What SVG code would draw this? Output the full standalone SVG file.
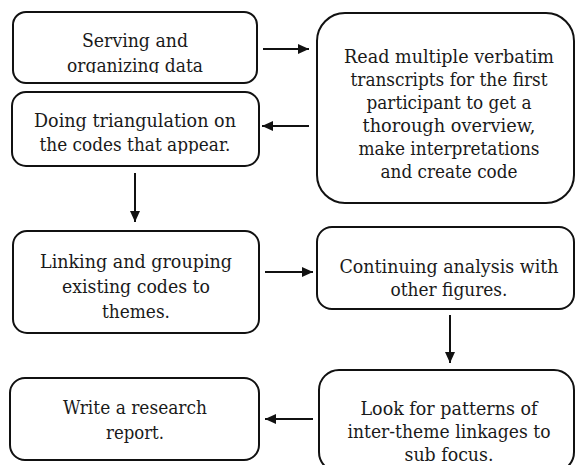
<svg xmlns="http://www.w3.org/2000/svg" width="576" height="465" viewBox="0 0 576 465">
  <style>
    .box { fill: #ffffff; stroke: #111111; stroke-width: 2; }
    .label { font-family: "DejaVu Serif", serif; font-size: 18.5px; fill: #1a1a1a; text-anchor: middle; }
    .conn { stroke: #111111; stroke-width: 2; fill: none; marker-end: url(#arrow); }
  </style>
  <defs>
    <marker id="arrow" markerUnits="userSpaceOnUse" markerWidth="12" markerHeight="12" viewBox="0 0 12 12" refX="11" refY="6" orient="auto">
      <path d="M0,1 L11,6 L0,11 Z" fill="#111111"/>
    </marker>
    <!-- the first two boxes crop the bottom of their second line -->
    <clipPath id="clip-serving"><rect x="13" y="12" width="244" height="61"/></clipPath>
    <clipPath id="clip-triangulation"><rect x="12" y="92" width="247" height="62"/></clipPath>
  </defs>
  <rect width="576" height="465" fill="#ffffff"/>

  <g id="node-serving">
    <rect class="box" x="13" y="12" width="244" height="71" rx="13"/>
    <g clip-path="url(#clip-serving)">
      <text class="label" x="135" y="47" textLength="106" lengthAdjust="spacingAndGlyphs">Serving and</text>
      <text class="label" x="135" y="72" textLength="136" lengthAdjust="spacingAndGlyphs">organizing data</text>
    </g>
  </g>

  <g id="node-read">
    <rect class="box" x="317" y="13" width="257" height="190" rx="28"/>
    <text class="label" x="449" y="63" textLength="210" lengthAdjust="spacingAndGlyphs">Read multiple verbatim</text>
    <text class="label" x="449" y="86" textLength="197" lengthAdjust="spacingAndGlyphs">transcripts for the first</text>
    <text class="label" x="449" y="109" textLength="165" lengthAdjust="spacingAndGlyphs">participant to get a</text>
    <text class="label" x="449" y="132" textLength="173" lengthAdjust="spacingAndGlyphs">thorough overview,</text>
    <text class="label" x="449" y="155" textLength="181" lengthAdjust="spacingAndGlyphs">make interpretations</text>
    <text class="label" x="449" y="178" textLength="137" lengthAdjust="spacingAndGlyphs">and create code</text>
  </g>

  <g id="node-triangulation">
    <rect class="box" x="12" y="92" width="247" height="74" rx="14"/>
    <g clip-path="url(#clip-triangulation)">
      <text class="label" x="135" y="127" textLength="202" lengthAdjust="spacingAndGlyphs">Doing triangulation on</text>
      <text class="label" x="135" y="151" textLength="191" lengthAdjust="spacingAndGlyphs">the codes that appear.</text>
    </g>
  </g>

  <g id="node-linking">
    <rect class="box" x="13" y="231" width="246" height="102" rx="14"/>
    <text class="label" x="136" y="268" textLength="192" lengthAdjust="spacingAndGlyphs">Linking and grouping</text>
    <text class="label" x="136" y="293" textLength="148" lengthAdjust="spacingAndGlyphs">existing codes to</text>
    <text class="label" x="136" y="318" textLength="68" lengthAdjust="spacingAndGlyphs">themes.</text>
  </g>

  <g id="node-continuing">
    <rect class="box" x="317" y="227" width="257" height="82" rx="15"/>
    <text class="label" x="449" y="273" textLength="219" lengthAdjust="spacingAndGlyphs">Continuing analysis with</text>
    <text class="label" x="449" y="296" textLength="117" lengthAdjust="spacingAndGlyphs">other figures.</text>
  </g>

  <g id="node-patterns">
    <rect class="box" x="319" y="370" width="255" height="102" rx="20"/>
    <text class="label" x="449" y="415" textLength="177" lengthAdjust="spacingAndGlyphs">Look for patterns of</text>
    <text class="label" x="449" y="438" textLength="203" lengthAdjust="spacingAndGlyphs">inter-theme linkages to</text>
    <text class="label" x="449" y="461" textLength="89" lengthAdjust="spacingAndGlyphs">sub focus.</text>
  </g>

  <g id="node-report">
    <rect class="box" x="10" y="378" width="249" height="82" rx="15"/>
    <text class="label" x="135" y="414" textLength="144" lengthAdjust="spacingAndGlyphs">Write a research</text>
    <text class="label" x="135" y="439" textLength="58" lengthAdjust="spacingAndGlyphs">report.</text>
  </g>

  <g id="connectors">
    <line class="conn" x1="263" y1="49" x2="309" y2="49"/>
    <line class="conn" x1="309" y1="126" x2="262" y2="126"/>
    <line class="conn" x1="135" y1="173" x2="135" y2="222"/>
    <line class="conn" x1="265" y1="272" x2="313" y2="272"/>
    <line class="conn" x1="450" y1="315" x2="450" y2="363"/>
    <line class="conn" x1="313" y1="419" x2="265" y2="419"/>
  </g>
</svg>
